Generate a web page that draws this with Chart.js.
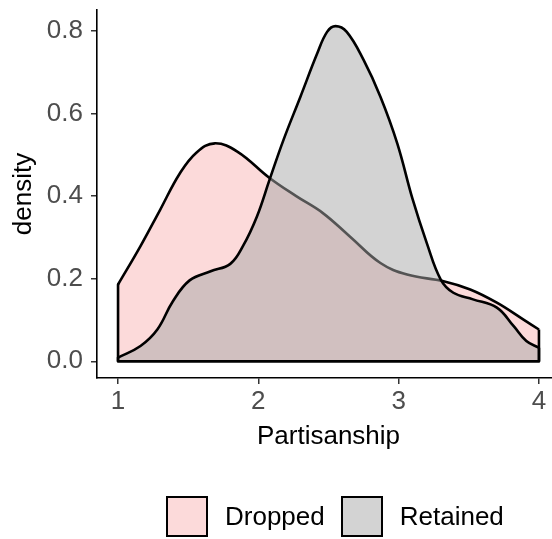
<!DOCTYPE html>
<html>
<head>
<meta charset="utf-8">
<script src="https://cdn.jsdelivr.net/npm/chart.js@4/dist/chart.umd.min.js"></script>
<style>
  body { margin: 0; overflow: hidden; background: #fff; font-family: "Liberation Sans", Arial, sans-serif; }
  #wrap { position: relative; width: 552px; height: 539px; overflow: hidden; }
  #chart { position: absolute; left: 0; top: 0; }
  #legend { position: absolute; top: 496px; left: 166px; display: flex; align-items: center; font-size: 26px; color: #000; }
  .item { display: flex; align-items: center; margin-right: 16px; }
  .key { width: 38px; height: 37px; border: 2px solid #000; margin-right: 17px; }
</style>
</head>
<body>
<div id="wrap">
  <canvas id="chart" width="560" height="539"></canvas>
  <div id="legend"></div>
</div>
<script>
// Density curves for each group
const seriesNames = ["Dropped", "Retained"];

const droppedX = [1.00, 1.16, 1.30, 1.44, 1.56, 1.69, 1.85, 2.08, 2.27, 2.46, 2.65, 2.87, 3.06, 3.32, 3.51, 3.70, 3.89, 4.00];
const droppedY = [0.186, 0.279, 0.367, 0.455, 0.506, 0.528, 0.508, 0.444, 0.400, 0.359, 0.303, 0.238, 0.210, 0.194, 0.174, 0.142, 0.101, 0.077];

const retainedX = [1.00, 1.16, 1.28, 1.39, 1.51, 1.66, 1.80, 1.89, 1.99, 2.08, 2.18, 2.30, 2.42, 2.49, 2.55, 2.63, 2.75, 2.87, 2.99, 3.10, 3.20, 3.30, 3.39, 3.53, 3.70, 3.82, 3.91, 4.00];
const retainedY = [0.009, 0.037, 0.077, 0.145, 0.196, 0.218, 0.236, 0.279, 0.351, 0.440, 0.537, 0.641, 0.746, 0.798, 0.812, 0.798, 0.730, 0.641, 0.528, 0.392, 0.287, 0.198, 0.166, 0.150, 0.130, 0.085, 0.049, 0.033];

const xTicks = [1, 2, 3, 4];
const yTicks = [0, 0.2, 0.4, 0.6, 0.8];

const fills = ["rgba(250,181,181,0.5)", "rgba(168,168,168,0.5)"];
const fontFamily = '"Liberation Sans", Arial, sans-serif';

function toPoints(xs, ys) {
  return xs.map((x, i) => ({ x: x, y: ys[i] }));
}

// Left side, baseline and right side of a density polygon
function edges(xs, ys) {
  const n = xs.length - 1;
  return [
    { x: xs[0], y: ys[0] },
    { x: xs[0], y: 0 },
    { x: xs[n], y: 0 },
    { x: xs[n], y: ys[n] }
  ];
}

const lineStyle = {
  borderColor: "#000",
  borderWidth: 2.6,
  pointRadius: 0,
  borderJoinStyle: "round"
};

const ctx = document.getElementById("chart").getContext("2d");

new Chart(ctx, {
  type: "line",
  data: {
    datasets: [
      { ...lineStyle, label: seriesNames[0], data: toPoints(droppedX, droppedY), fill: "origin",
        backgroundColor: fills[0], tension: 0.4, order: 4 },
      { ...lineStyle, label: seriesNames[0] + " edge", data: edges(droppedX, droppedY), fill: false,
        tension: 0, order: 3 },
      { ...lineStyle, label: seriesNames[1], data: toPoints(retainedX, retainedY), fill: "origin",
        backgroundColor: fills[1], tension: 0.4, order: 2 },
      { ...lineStyle, label: seriesNames[1] + " edge", data: edges(retainedX, retainedY), fill: false,
        tension: 0, order: 1 }
    ]
  },
  options: {
    responsive: false,
    animation: false,
    layout: { padding: { top: 10, left: 0, right: 0, bottom: 0 } },
    plugins: {
      legend: { display: false },
      tooltip: { enabled: false }
    },
    scales: {
      x: {
        type: "linear",
        min: 0.85,
        max: 4.15,
        afterBuildTicks: (s) => { s.ticks = xTicks.map((v) => ({ value: v })); },
        afterFit: (s) => { s.height = 161; s.paddingLeft = 0; s.paddingRight = 0; },
        ticks: {
          color: "#4d4d4d",
          font: { size: 26, family: fontFamily },
          padding: 2,
          maxRotation: 0,
          callback: (v) => String(v)
        },
        grid: { drawOnChartArea: false, drawTicks: true, tickLength: 6, color: "#333", lineWidth: 1.5 },
        border: { display: true, color: "#000", width: 1.6 },
        title: {
          display: true,
          text: "Partisanship",
          color: "#000",
          font: { size: 26, family: fontFamily },
          padding: { top: 0, bottom: 87 }
        }
      },
      y: {
        min: -0.0405,
        max: 0.851,
        afterBuildTicks: (s) => { s.ticks = yTicks.map((v) => ({ value: v })); },
        afterFit: (s) => { s.width = 97; s.paddingTop = 0; s.paddingBottom = 0; },
        ticks: {
          color: "#4d4d4d",
          font: { size: 26, family: fontFamily },
          padding: 8,
          callback: (v) => v.toFixed(1)
        },
        grid: { drawOnChartArea: false, drawTicks: true, tickLength: 6, color: "#333", lineWidth: 1.5 },
        border: { display: true, color: "#000", width: 1.6 },
        title: {
          display: true,
          text: "density",
          color: "#000",
          font: { size: 26, family: fontFamily },
          padding: { top: 8, bottom: 0 }
        }
      }
    }
  }
});

// Legend below the plot
const legendEl = document.getElementById("legend");
seriesNames.forEach((name, i) => {
  const item = document.createElement("div");
  item.className = "item";
  item.innerHTML = `<div class="key" style="background:${fills[i]}"></div><span>${name}</span>`;
  legendEl.appendChild(item);
});
</script>
</body>
</html>
